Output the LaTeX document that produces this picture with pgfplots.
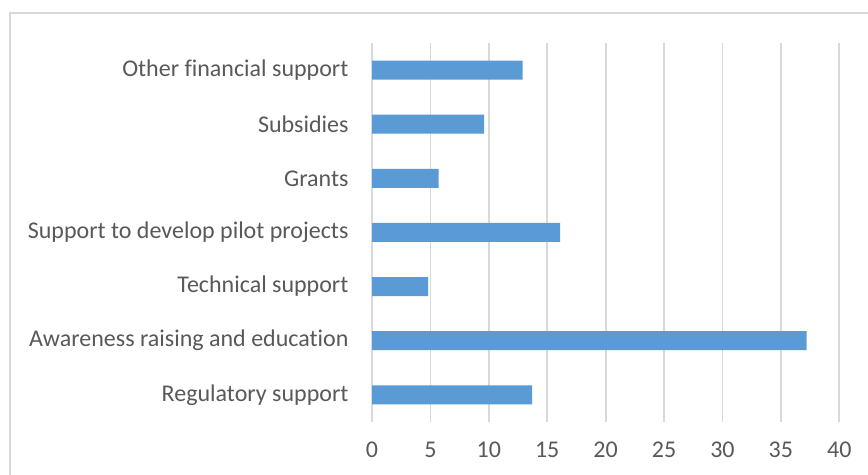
\documentclass[border=0pt]{standalone}
\usepackage{fontspec}
\setmainfont[Ligatures={NoCommon}]{Carlito}
\usepackage{pgfplots}
\pgfplotsset{compat=1.18}
\definecolor{barblue}{HTML}{5B9BD5}
\definecolor{gridgray}{HTML}{D9D9D9}
\definecolor{txtgray}{HTML}{595959}
\begin{document}
\begin{tikzpicture}[x=1bp,y=1bp]
\useasboundingbox (0,0) rectangle (868,475);
\fill[white] (0,0) rectangle (868,475);
\draw[gridgray, line width=1.5bp] (10,-2) -- (10,462) -- (870,462);
\begin{axis}[
  at={(372bp,53.1bp)}, anchor=south west,
  scale only axis,
  width=467.3bp, height=378.9bp,
  xmin=0, xmax=40,
  ymin=-0.5, ymax=6.5,
  xtick={0,5,...,40},
  ytick={0,1,2,3,4,5,6},
  yticklabels={Regulatory support, Awareness raising and education, Technical support, Support to develop pilot projects, Grants, Subsidies, Other financial support},
  xmajorgrids,
  grid style={gridgray, line width=1.8bp},
  axis line style={draw=none},
  major tick length=0pt,
  tick label style={font=\fontsize{24bp}{28bp}\selectfont, text=txtgray},
  /pgf/number format/assume math mode=true,
  yticklabel style={xshift=-20bp},
  xticklabel style={yshift=-17bp},
  xbar, bar width=19bp,
]
\addplot[fill=barblue, draw=none] coordinates {
  (13.7,0) (37.2,1) (4.8,2) (16.1,3) (5.7,4) (9.6,5) (12.9,6)
};
\end{axis}
\end{tikzpicture}
\end{document}
